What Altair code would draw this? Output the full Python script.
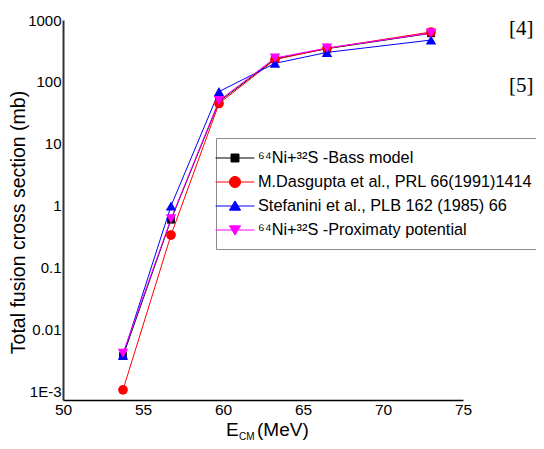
import altair as alt
import pandas as pd

energy = [53.75, 56.75, 59.75, 63.25, 66.5, 73.0]
bass = [0.0038, 0.6, 48, 236, 345, 610]
dasgupta = [0.00108, 0.34, 45, 230, 350, 640]
stefanini = [0.0039, 1.0, 70, 200, 300, 475]
proximity = [0.0042, 0.62, 50, 244, 353, 616]

series_names = [
    "⁶⁴Ni+³²S -Bass model",
    "M.Dasgupta et al., PRL 66(1991)1414",
    "Stefanini et al., PLB 162 (1985) 66",
    "⁶⁴Ni+³²S -Proximaty potential",
]
series_colors = ["#000000", "#ff0000", "#0000ff", "#ff00ff"]
plot_shapes = ["square", "circle", "triangle-up", "triangle-down"]
plot_sizes = [60, 95, 110, 110]
legend_paths = [
    "M-2.1,0H2.1M-0.43,-0.43H0.43V0.43H-0.43Z",
    "M-2.1,0H2.1M0.6,0A0.6,0.6,0,1,1,-0.6,0A0.6,0.6,0,1,1,0.6,0Z",
    "M-2.1,0H2.1M0,-0.55L0.6,0.45H-0.6Z",
    "M-2.1,0H2.1M0,0.55L0.6,-0.45H-0.6Z",
]
x_ticks = [50, 55, 60, 65, 70, 75]
y_ticks = [0.001, 0.01, 0.1, 1, 10, 100, 1000]

rows = []
for name, vals in zip(series_names, [bass, dasgupta, stefanini, proximity]):
    for e, v in zip(energy, vals):
        rows.append({"series": name, "E": e, "sigma": v})
df = pd.DataFrame(rows)

NARROW = "Liberation Sans Narrow, Arial Narrow, Liberation Sans, Arial, sans-serif"
SANS = "Liberation Sans, Arial, sans-serif"
SERIF = "Liberation Serif, Times New Roman, serif"

leg = alt.Legend(
    title=None,
    orient="none",
    legendX=153,
    legendY=118,
    symbolSize=342,
    symbolStrokeWidth=1,
    symbolOpacity=1,
    symbolOffset=-1,
    labelOffset=13,
    labelFont=SANS,
    labelFontSize=16.3,
    labelColor="black",
    labelLimit=500,
    strokeColor="#8c8c8c",
    fillColor="white",
    padding=10,
    rowPadding=5,
)

xenc = alt.X(
    "E:Q",
    scale=alt.Scale(domain=[50, 75], nice=False, zero=False),
    axis=alt.Axis(
        values=x_ticks, title=None, ticks=False, grid=False, domainColor="black",
        domainWidth=1.5, labelFont=NARROW, labelFontSize=15.5, labelColor="black",
        labelPadding=2, labelFlush=False,
    ),
)
yenc = alt.Y(
    "sigma:Q",
    scale=alt.Scale(type="log", domain=[10 ** -3.13, 1000], nice=False),
    axis=alt.Axis(
        values=y_ticks,
        labelExpr="datum.value < 0.002 ? '1E-3' : toString(datum.value)",
        title="Total fusion cross section (mb)",
        titleFont=SANS, titleFontSize=19.5, titleFontWeight="normal", titleColor="black",
        titleX=-45, titleY=202, titleBaseline="middle",
        ticks=False, grid=False, domainColor="#333333", domainWidth=2,
        labelFont=NARROW, labelFontSize=15, labelColor="black", labelPadding=2,
        labelFlush=False,
    ),
)
color_scale = alt.Scale(domain=series_names, range=series_colors)
cenc = alt.Color("series:N", scale=color_scale, legend=leg)

base = alt.Chart(df)

legend_layer = base.transform_filter("false").mark_point(filled=True, opacity=1).encode(
    x=xenc, y=yenc,
    color=cenc,
    stroke=alt.Stroke("series:N", scale=alt.Scale(domain=series_names, range=series_colors), legend=leg),
    shape=alt.Shape("series:N", scale=alt.Scale(domain=series_names, range=legend_paths), legend=leg),
)

lines = base.mark_line(strokeWidth=1).encode(x=xenc, y=yenc, color=cenc, detail="series:N")

point_layers = []
for name, shp, sz in zip(series_names, plot_shapes, plot_sizes):
    point_layers.append(
        base.transform_filter(alt.datum.series == name)
        .mark_point(filled=True, shape=shp, size=sz, opacity=1)
        .encode(x=xenc, y=yenc, color=cenc)
    )

def txt(s, x, y, size, font, baseline="alphabetic"):
    return alt.Chart(pd.DataFrame({"t": [s]})).mark_text(
        font=font, fontSize=size, align="left", baseline=baseline, color="black"
    ).encode(text="t:N", x=alt.value(x), y=alt.value(y))

anno = [
    txt("E", 163, 416, 19, NARROW),
    txt("CM", 176, 420, 10, NARROW),
    txt("(MeV)", 194, 416, 19, NARROW),
    txt("[4]", 446, 15, 21, SERIF),
    txt("[5]", 446, 72, 21, SERIF),
]

chart = alt.layer(legend_layer, lines, *point_layers, *anno).properties(
    width=400, height=380,
    background="white",
    autosize=alt.AutoSizeParams(type="none"),
    padding={"left": 55, "top": 12, "right": 73, "bottom": 41},
).configure_view(stroke=None)

chart.save("out.html", embed_options={"renderer": "svg", "actions": False})
